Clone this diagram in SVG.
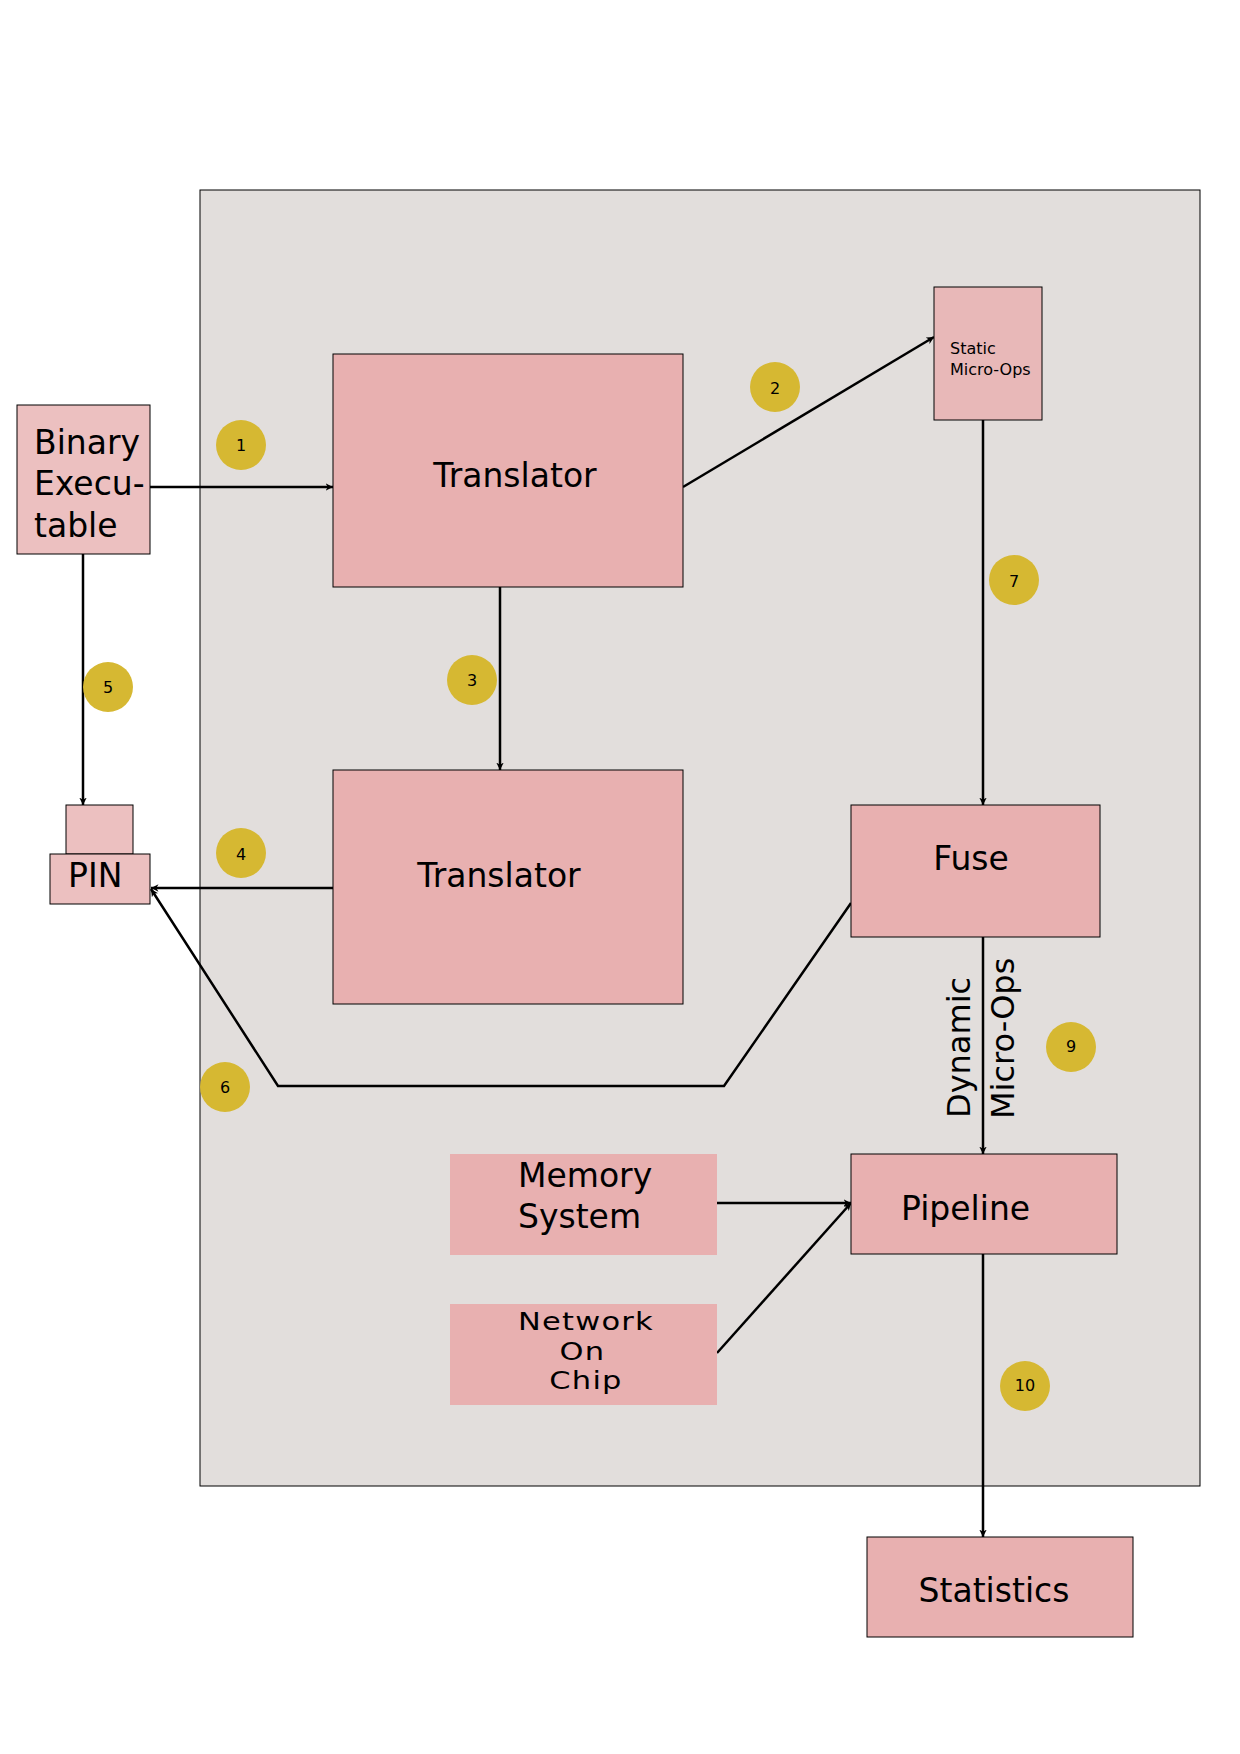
<svg xmlns="http://www.w3.org/2000/svg" width="1240" height="1754" viewBox="0 0 1240 1754">
<style>
text{font-family:"DejaVu Sans","Liberation Sans",sans-serif;fill:#000}
.box{fill:#e8b0b0;stroke:#000;stroke-width:1}
.light{fill:#ecc0c0;stroke:#000;stroke-width:1}
.nob{fill:#e8b0b0}
.lbl{font-size:33px}
.num{fill:#d6b832}
.nt{font-size:16px;text-anchor:middle}
.c{fill:none;stroke:#000;stroke-width:2.5}
</style>
<defs>
<marker id="ah" viewBox="0 0 10 10" refX="10" refY="5" markerWidth="3" markerHeight="3" orient="auto" markerUnits="strokeWidth">
<path d="M0,0 L10,5 L0,10 L3,5 z" fill="#000"/>
</marker>
</defs>
<rect x="0" y="0" width="1240" height="1754" fill="#fff"/>
<g id="container"><rect x="200" y="190" width="1000" height="1296" fill="#e2dedc" stroke="#000" stroke-width="1"/></g>

<g id="connectors">
<line class="c" x1="150" y1="487" x2="333" y2="487" marker-end="url(#ah)" stroke-width="3"/>
<line class="c" x1="683" y1="487" x2="934" y2="337" marker-end="url(#ah)"/>
<line class="c" x1="500" y1="587" x2="500" y2="770" marker-end="url(#ah)" stroke-width="2"/>
<line class="c" x1="333" y1="888" x2="151" y2="888" marker-end="url(#ah)" stroke-width="3"/>
<line class="c" x1="83" y1="554" x2="83" y2="805" marker-end="url(#ah)" stroke-width="3"/>
<polyline class="c" points="851,903 724,1086 278,1086 151,889" marker-end="url(#ah)"/>
<line class="c" x1="983" y1="420" x2="983" y2="805" marker-end="url(#ah)" stroke-width="2"/>
<line class="c" x1="983" y1="937" x2="983" y2="1154" marker-end="url(#ah)" stroke-width="2"/>
<line class="c" x1="717" y1="1203" x2="851" y2="1203" marker-end="url(#ah)" stroke-width="2"/>
<line class="c" x1="717" y1="1353" x2="851" y2="1203" marker-end="url(#ah)" stroke-width="2"/>
<line class="c" x1="983" y1="1254" x2="983" y2="1537" marker-end="url(#ah)" stroke-width="2"/>
</g>

<g id="binary">
<rect x="17" y="405" width="133" height="149" class="light" stroke-width="2"/>
<text class="lbl" x="34" y="454">Binary</text>
<text class="lbl" x="34" y="495">Execu-</text>
<text class="lbl" x="34" y="537">table</text>
</g>
<g id="translator1">
<rect x="333" y="354" width="350" height="233" class="box"/>
<text class="lbl" x="515" y="487" text-anchor="middle">Translator</text>
</g>
<g id="static">
<rect x="934" y="287" width="108" height="133" fill="#e8b8b8" stroke="#000" stroke-width="1"/>
<text x="950" y="354" font-size="16">Static</text>
<text x="950" y="375" font-size="16">Micro-Ops</text>
</g>
<g id="translator2">
<rect x="333" y="770" width="350" height="234" class="box"/>
<text class="lbl" x="499" y="887" text-anchor="middle">Translator</text>
</g>
<g id="pin">
<rect x="66" y="805" width="67" height="49" class="light"/>
<rect x="50" y="854" width="100" height="50" class="light"/>
<text class="lbl" x="68" y="887">PIN</text>
</g>
<g id="fuse">
<rect x="851" y="805" width="249" height="132" class="box"/>
<text class="lbl" x="971" y="870" text-anchor="middle">Fuse</text>
</g>
<g id="dynamic-label">
<text font-size="32" transform="translate(970,1118) rotate(-90)">Dynamic</text>
<text font-size="32" transform="translate(1014,1119) rotate(-90)">Micro-Ops</text>
</g>
<g id="pipeline">
<rect x="851" y="1154" width="266" height="100" class="box"/>
<text class="lbl" x="901" y="1220">Pipeline</text>
</g>
<g id="memory">
<rect x="450" y="1154" width="267" height="101" class="nob"/>
<text class="lbl" x="518" y="1187">Memory</text>
<text class="lbl" x="518" y="1228">System</text>
</g>
<g id="noc">
<rect x="450" y="1304" width="267" height="101" class="nob"/>
<g transform="translate(586,0) scale(1.22,1)">
<text x="0" y="1330" font-size="25" letter-spacing="1" text-anchor="middle">Network</text>
<text x="-3" y="1360" font-size="25" letter-spacing="1" text-anchor="middle">On</text>
<text x="0" y="1389" font-size="25" letter-spacing="1" text-anchor="middle">Chip</text>
</g>
</g>
<g id="statistics">
<rect x="867" y="1537" width="266" height="100" class="box"/>
<text class="lbl" x="994" y="1602" text-anchor="middle">Statistics</text>
</g>

<g id="n1"><circle class="num" cx="241" cy="445" r="25"/><text class="nt" x="241" y="451" font-size="15">1</text></g>
<g id="n2"><circle class="num" cx="775" cy="387" r="25"/><text class="nt" x="775" y="394" font-size="17">2</text></g>
<g id="n3"><circle class="num" cx="472" cy="680" r="25"/><text class="nt" x="472" y="686">3</text></g>
<g id="n4"><circle class="num" cx="241" cy="853" r="25"/><text class="nt" x="241" y="860" font-size="17">4</text></g>
<g id="n5"><circle class="num" cx="108" cy="687" r="25"/><text class="nt" x="108" y="693">5</text></g>
<g id="n6"><circle class="num" cx="225" cy="1087" r="25"/><text class="nt" x="225" y="1093">6</text></g>
<g id="n7"><circle class="num" cx="1014" cy="580" r="25"/><text class="nt" x="1014" y="587" font-size="17">7</text></g>
<g id="n9"><circle class="num" cx="1071" cy="1047" r="25"/><text class="nt" x="1071" y="1052" font-size="14">9</text></g>
<g id="n10"><circle class="num" cx="1025" cy="1386" r="25"/><text class="nt" x="1025" y="1391" font-size="15">10</text></g>
</svg>
